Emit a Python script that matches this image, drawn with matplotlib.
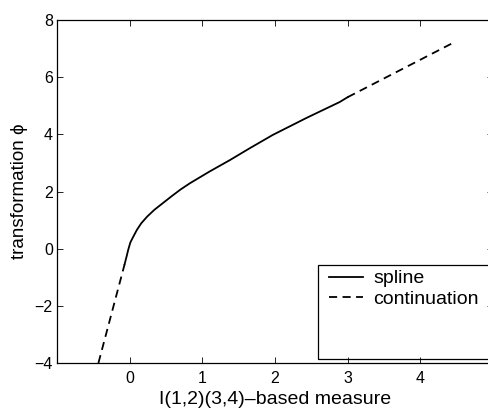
import matplotlib
matplotlib.use("Agg")
import matplotlib.pyplot as plt
from matplotlib.patches import Rectangle

plt.rcParams['font.family'] = ['Liberation Sans', 'DejaVu Sans']

# spline part
spline_x = [-0.07, -0.04, -0.02, 0.01, 0.05, 0.10, 0.16, 0.24, 0.34, 0.46, 0.58, 0.70,
            0.83, 1.1, 1.38, 1.65, 1.97, 2.43, 2.89, 3.0]
spline_y = [-0.55, -0.25, -0.04, 0.22, 0.42, 0.66, 0.89, 1.12, 1.36, 1.60, 1.84, 2.07,
            2.29, 2.7, 3.1, 3.51, 3.98, 4.57, 5.13, 5.3]

# linear continuation at both ends
cont_low_x = [-0.43, -0.07]
cont_low_y = [-4.0, -0.55]
cont_high_x = [3.0, 4.45]
cont_high_y = [5.3, 7.2]

xticks = [0, 1, 2, 3, 4]
yticks = [-4, -2, 0, 2, 4, 6, 8]

W, H = 488, 412
fig = plt.figure(figsize=(W / 100, H / 100), dpi=100)
ax = fig.add_axes([57 / W, 1 - 363 / H, 436 / W, 343 / H])

ax.plot(spline_x, spline_y, color='black', lw=1.3, label='spline')
ax.plot(cont_low_x, cont_low_y, color='black', lw=1.3, dashes=(4.5, 3), label='continuation')
ax.plot(cont_high_x, cont_high_y, color='black', lw=1.3, dashes=(4.5, 3))

ax.set_xlim(-1, 5)
ax.set_ylim(-4, 8)
ax.set_xticks(xticks)
ax.set_yticks(yticks)
ax.set_yticklabels([str(t).replace('-', '\u2212') for t in yticks])
ax.tick_params(direction='in', top=True, right=True, labelsize=11.5, length=4, width=0.6)
ax.tick_params(axis='x', pad=6)
ax.tick_params(axis='y', pad=3)
for s in ax.spines.values():
    s.set_linewidth(0.9)

ax.set_xlabel('I(1,2)(3,4)\u2013based measure', fontsize=14, labelpad=3)
ax.set_ylabel('transformation \u03d5', fontsize=13.5, labelpad=5)

# MATLAB-style legend box, larger than its entries
ax.add_patch(Rectangle((0.599, 0.012), 0.40, 0.274, transform=ax.transAxes,
                       fill=False, edgecolor='black', lw=0.9, clip_on=False, zorder=5))
ax.legend(loc='upper left', bbox_to_anchor=(0.612, 0.286), frameon=False,
          fontsize=14, handlelength=1.75, handletextpad=0.55, labelspacing=0.15,
          borderaxespad=0, borderpad=0.25)

fig.savefig('out.png', dpi=100)
